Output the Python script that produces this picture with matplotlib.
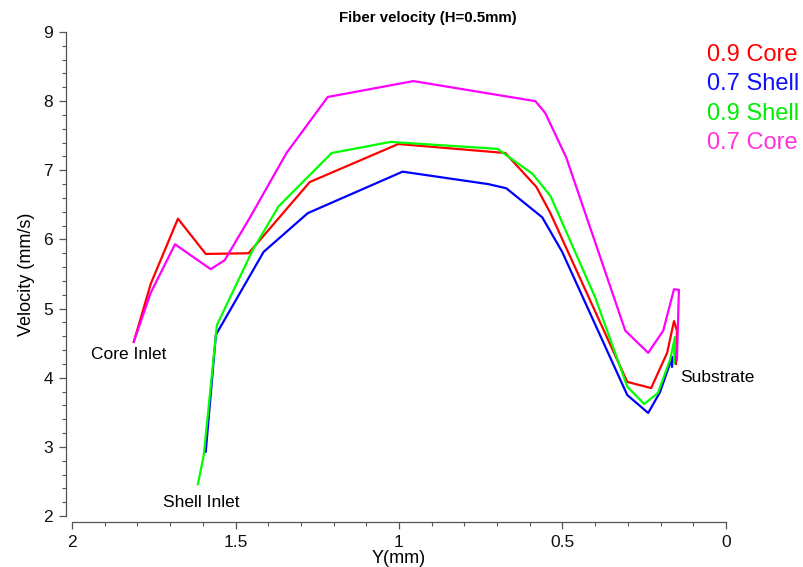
import matplotlib
matplotlib.use('Agg')
import matplotlib.pyplot as plt
from matplotlib.ticker import MultipleLocator

plt.rcParams['font.family'] = ['Liberation Sans', 'DejaVu Sans']

# 0.9 Core
core09_x = [1.811, 1.759, 1.676, 1.591, 1.460, 1.273, 1.002, 0.675, 0.580, 0.537,
            0.302, 0.229, 0.180, 0.159, 0.150, 0.153]
core09_y = [4.52, 5.36, 6.30, 5.79, 5.80, 6.83, 7.38, 7.25, 6.76, 6.38,
            3.94, 3.85, 4.36, 4.82, 4.68, 4.20]
# 0.7 Shell
shell07_x = [1.591, 1.560, 1.414, 1.279, 0.989, 0.727, 0.672, 0.562, 0.501,
             0.302, 0.238, 0.202, 0.171, 0.165, 0.165]
shell07_y = [2.93, 4.62, 5.82, 6.38, 6.98, 6.80, 6.74, 6.32, 5.82,
             3.75, 3.49, 3.79, 4.21, 4.30, 4.16]
# 0.9 Shell
shell09_x = [1.615, 1.597, 1.557, 1.447, 1.368, 1.206, 1.026, 0.699, 0.592, 0.537,
             0.400, 0.302, 0.250, 0.208, 0.171, 0.156, 0.159]
shell09_y = [2.46, 2.88, 4.76, 5.85, 6.48, 7.25, 7.41, 7.31, 6.95, 6.63,
             5.16, 3.87, 3.62, 3.78, 4.26, 4.59, 4.21]
# 0.7 Core
core07_x = [1.811, 1.759, 1.685, 1.576, 1.533, 1.453, 1.344, 1.218, 0.956, 0.583,
            0.553, 0.489, 0.385, 0.308, 0.238, 0.192, 0.159, 0.144, 0.150]
core07_y = [4.52, 5.23, 5.93, 5.57, 5.70, 6.34, 7.25, 8.06, 8.29, 8.00,
            7.83, 7.19, 5.75, 4.68, 4.36, 4.68, 5.28, 5.27, 4.26]

series = [
    ('0.9 Core', core09_x, core09_y, '#ff0000', '#ff0000'),
    ('0.7 Shell', shell07_x, shell07_y, '#0000ff', '#1010ff'),
    ('0.9 Shell', shell09_x, shell09_y, '#00ff00', '#00ee00'),
    ('0.7 Core', core07_x, core07_y, '#ff00ff', '#ff33dd'),
]

fig = plt.figure(figsize=(8.04, 5.67), dpi=100)
ax = fig.add_axes([72/804, 1-516/567, (726-72)/804, (516-32)/567])

for name, xs, ys, c, tc in series:
    ax.plot(xs, ys, color=c, lw=1.6)

ax.set_xlim(2, 0)
ax.set_ylim(2, 9)
ax.xaxis.set_major_locator(MultipleLocator(0.5))
ax.xaxis.set_minor_locator(MultipleLocator(0.1))
ax.yaxis.set_major_locator(MultipleLocator(1))
ax.yaxis.set_minor_locator(MultipleLocator(0.2))
ax.set_xticks([2, 1.5, 1, 0.5, 0])
ax.set_xticklabels(['2', '1.5', '1', '0.5', '0'])

for s in ['top', 'right']:
    ax.spines[s].set_visible(False)
for s in ['left', 'bottom']:
    ax.spines[s].set_color('#555555')
    ax.spines[s].set_linewidth(0.9)
ax.spines['left'].set_position(('outward', 4.5))
ax.spines['bottom'].set_position(('outward', 4.5))
ax.tick_params(which='major', direction='out', length=5, width=0.9, color='#555555',
               labelsize=12.5, labelcolor='#111111', pad=4)
ax.tick_params(which='minor', direction='out', length=3, width=0.8, color='#555555')

ax.set_xlabel('Y(mm)', fontsize=13, labelpad=0)
ax.set_ylabel('Velocity (mm/s)', fontsize=13, labelpad=6)
fig.text(428/804, 1-18/567, 'Fiber velocity (H=0.5mm)', ha='center', va='center',
         fontsize=10.8, fontweight='bold')

# legend as coloured text
for i, (name, xs, ys, c, tc) in enumerate(series):
    fig.text(707/804, 1-(55+29.3*i)/567, name, color=tc, fontsize=17,
             ha='left', va='center')

ax.text(1.942, 4.33, 'Core Inlet', fontsize=12.5, ha='left', va='center')
ax.text(1.722, 2.20, 'Shell Inlet', fontsize=12.5, ha='left', va='center')
ax.text(0.140, 4.01, 'Substrate', fontsize=12.5, ha='left', va='center')

fig.savefig('out.png', dpi=100)
